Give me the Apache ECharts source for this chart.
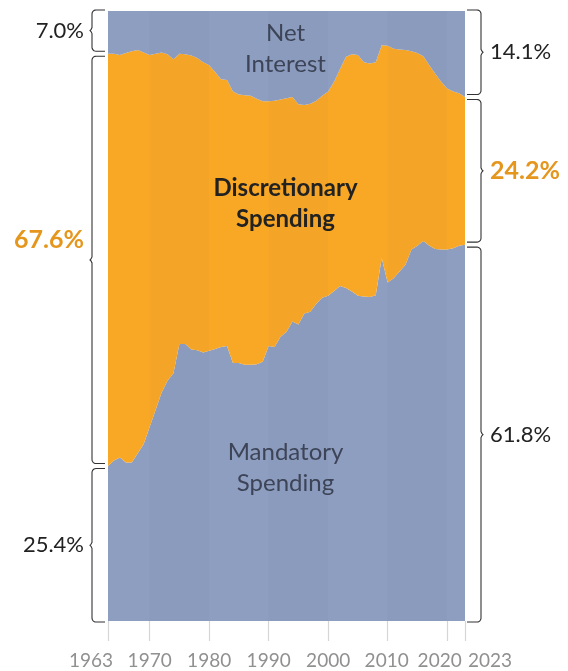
<!DOCTYPE html>
<html>
<head>
<meta charset="utf-8">
<script src="https://cdn.jsdelivr.net/npm/echarts@6/dist/echarts.min.js"></script>
<style>
  html, body { margin: 0; padding: 0; background: #fff; }
  #chart { width: 568px; height: 671px; }
</style>
</head>
<body>
<div id="chart"></div>
<script>
const years = Array.from({ length: 61 }, (_, i) => String(1963 + i))
const tickYears = ['1963', '1970', '1980', '1990', '2000', '2010', '2020', '2023']

// share of outlays, percent
const mandatory = [
  25.4, 26.3, 26.8, 26.0, 26.0, 27.5, 29.0, 31.8, 34.6, 37.4,
  39.4, 40.6, 45.4, 45.4, 44.5, 44.4, 44.0, 44.3, 44.6, 44.9,
  45.1, 42.3, 42.3, 42.0, 42.0, 42.1, 42.5, 45.1, 44.9, 46.6,
  47.4, 49.1, 48.6, 50.4, 50.7, 52.0, 53.0, 53.3, 54.1, 54.9,
  54.6, 54.0, 53.3, 53.2, 53.1, 53.4, 59.5, 55.5, 56.2, 57.3,
  58.4, 60.9, 61.5, 62.3, 61.5, 61.0, 60.9, 60.9, 61.1, 61.5,
  61.7
]
const discretionary = [
  67.6, 66.7, 66.0, 67.1, 67.4, 66.1, 64.2, 61.0, 58.4, 55.8,
  53.5, 51.5, 47.6, 47.5, 48.2, 47.9, 47.6, 46.8, 45.4, 43.9,
  43.6, 44.5, 44.0, 44.2, 44.1, 43.5, 42.7, 40.1, 40.4, 38.9,
  38.3, 36.8, 36.1, 34.2, 34.1, 33.3, 33.1, 33.5, 34.3, 35.6,
  37.9, 38.9, 39.5, 38.4, 38.3, 38.2, 34.9, 38.8, 37.6, 36.4,
  35.2, 32.5, 31.6, 30.3, 29.6, 28.7, 27.5, 26.4, 25.7, 25.0,
  24.2
]
const netInterest = [
  7.0, 7.0, 7.2, 6.9, 6.6, 6.4, 6.8, 7.2, 7.0, 6.8,
  7.1, 7.9, 7.0, 7.1, 7.3, 7.7, 8.4, 8.9, 10.0, 11.2,
  11.3, 13.2, 13.7, 13.8, 13.9, 14.4, 14.8, 14.8, 14.7, 14.5,
  14.3, 14.1, 15.3, 15.4, 15.2, 14.7, 13.9, 13.2, 11.6, 9.5,
  7.5, 7.1, 7.2, 8.4, 8.6, 8.4, 5.6, 5.7, 6.2, 6.3,
  6.4, 6.6, 6.9, 7.4, 8.9, 10.3, 11.6, 12.7, 13.2, 13.5,
  14.1
]
const startLabels = ['25.4%', '67.6%', '7.0%']
const endLabels = ['61.8%', '24.2%', '14.1%']
const shadedDecades = [['1970', '1980'], ['1990', '2000'], ['2010', '2020']]

const BLUE = '#8e9ec0'
const ORANGE = '#f9a826'
const ORANGE_TEXT = '#e5961c'
const AXIS_GREY = '#909090'
const FONT = 'Lato, "Open Sans", sans-serif'

const chart = echarts.init(document.getElementById('chart'))

const areaSeries = (name, data, color) => ({
  name,
  type: 'line',
  stack: 'total',
  data,
  symbol: 'none',
  silent: true,
  lineStyle: { width: 0 },
  itemStyle: { color },
  areaStyle: { color, opacity: 1 },
})

const yearLabel = (pad) => ({ padding: pad, color: AXIS_GREY, fontSize: 19, fontFamily: FONT })

chart.setOption({
  animation: false,
  grid: { left: 108, right: 103, top: 11, bottom: 50 },
  xAxis: {
    type: 'category',
    data: years,
    boundaryGap: false,
    axisLine: { show: false },
    axisTick: {
      show: true,
      length: 20,
      interval: (i, v) => tickYears.includes(v),
      lineStyle: { color: '#d6d6d6', width: 1.2 },
    },
    axisLabel: {
      interval: (i, v) => tickYears.includes(v),
      margin: 30,
      color: AXIS_GREY,
      fontSize: 19,
      fontFamily: FONT,
      formatter: (v) => {
        if (v === '1963') return '{a|' + v + '}'
        if (v === '2010') return '{c|' + v + '}'
        if (v === '2020') return '{b|' + v + '}'
        if (v === '2023') return '{d|' + v + '}'
        return v
      },
      rich: {
        a: yearLabel([0, 34, 0, 0]),
        b: yearLabel([0, 15, 0, 0]),
        c: yearLabel([0, 2, 0, 0]),
        d: yearLabel([0, 0, 0, 50]),
      },
    },
    splitLine: { show: false },
  },
  yAxis: { type: 'value', min: 0, max: 100, show: false },
  series: [
    areaSeries('Mandatory Spending', mandatory, BLUE),
    areaSeries('Discretionary Spending', discretionary, ORANGE),
    areaSeries('Net Interest', netInterest, BLUE),
  ],
})

// braces, labels and decade shading placed from the axis scale
const px = (v) => chart.convertToPixel({ yAxisIndex: 0 }, v)
const pxYear = (y) => chart.convertToPixel({ xAxisIndex: 0 }, y)
const xStart = pxYear('1963')
const xEnd = pxYear('2023')

// curly brace as a polyline: xl = spine, xe = free ends
function brace(xl, xe, y1, y2) {
  const r = 4
  const s = Math.sign(xe - xl)
  const pts = [[xe, y1]]
  for (let a = 0; a <= 6; a++) {
    const t = (Math.PI / 2) * (a / 6)
    pts.push([xl + s * r - s * r * Math.sin(t), y1 + r - r * Math.cos(t)])
  }
  const ym = (y1 + y2) / 2
  const tip = -s * 2
  pts.push([xl, ym - 3], [xl + tip * 0.5, ym - 1], [xl + tip, ym], [xl + tip * 0.5, ym + 1], [xl, ym + 3])
  for (let a = 0; a <= 6; a++) {
    const t = (Math.PI / 2) * (a / 6)
    pts.push([xl + s * r - s * r * Math.cos(t), y2 - r + r * Math.sin(t)])
  }
  pts.push([xe, y2])
  return pts
}

function bracketGroup(cum, labels, side) {
  const els = []
  const xl = side === 'left' ? xStart - 16 : xEnd + 16
  const xe = side === 'left' ? xStart - 3 : xEnd + 2
  for (let k = 0; k < 3; k++) {
    const yTop = px(cum[k + 1]) + (k === 2 ? -1 : 2.5)
    const yBot = px(cum[k]) - (k === 0 ? -1 : 2.5)
    els.push({
      type: 'polyline',
      shape: { points: brace(xl, xe, yTop, yBot) },
      style: { fill: null, stroke: '#333', lineWidth: 1.1 },
      silent: true,
    })
    const orange = k === 1
    let ym = (yTop + yBot) / 2
    if (side === 'left' && k === 1) ym -= 20
    els.push({
      type: 'text',
      x: side === 'left' ? xStart - 24 : xEnd + 25,
      y: ym,
      silent: true,
      style: {
        text: labels[k],
        fill: orange ? ORANGE_TEXT : '#222',
        fontSize: orange ? 25 : 22,
        fontWeight: orange ? 'bold' : 'normal',
        fontFamily: FONT,
        align: side === 'left' ? 'right' : 'left',
        verticalAlign: 'middle',
      },
    })
  }
  return els
}

const shading = shadedDecades.map(([a, b]) => ({
  type: 'rect',
  silent: true,
  z: 50,
  shape: { x: pxYear(a), y: px(100), width: pxYear(b) - pxYear(a), height: px(0) - px(100) },
  style: { fill: 'rgba(40,40,70,0.022)' },
}))

const first = 0
const last = years.length - 1
const cumStart = [0, mandatory[first], mandatory[first] + discretionary[first], 100]
const cumEnd = [0, mandatory[last], mandatory[last] + discretionary[last], 100]
const xMid = (xStart + xEnd) / 2

const inner = (text, y, bold) => ({
  type: 'text',
  x: xMid - 1,
  y,
  silent: true,
  z: 60,
  style: {
    text,
    fill: bold ? '#222' : '#3d4457',
    fontSize: 24,
    fontWeight: bold ? 'bold' : 'normal',
    fontFamily: FONT,
    lineHeight: 31,
    align: 'center',
    verticalAlign: 'middle',
  },
})

chart.setOption({
  graphic: [
    ...shading,
    ...bracketGroup(cumStart, startLabels, 'left'),
    ...bracketGroup(cumEnd, endLabels, 'right'),
    inner('Net\nInterest', 49, false),
    inner('Discretionary\nSpending', 204, true),
    inner('Mandatory\nSpending', 468, false),
  ],
})
</script>
</body>
</html>
